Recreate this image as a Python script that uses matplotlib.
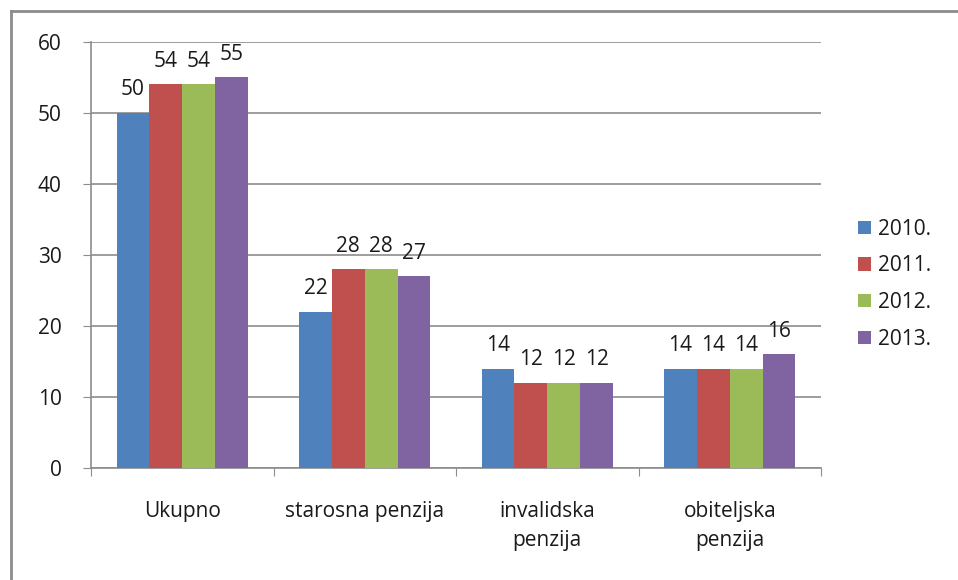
import numpy as np
import matplotlib.pyplot as plt
from matplotlib.lines import Line2D

categories = ["Ukupno", "starosna penzija", "invalidska\npenzija", "obiteljska\npenzija"]
years = ["2010.", "2011.", "2012.", "2013."]
v2010 = [50, 22, 14, 14]
v2011 = [54, 28, 12, 14]
v2012 = [54, 28, 12, 14]
v2013 = [55, 27, 12, 16]
colors = ["#4F81BD", "#C0504D", "#9BBB59", "#8064A2"]

plt.rcParams['font.family'] = ['Open Sans', 'DejaVu Sans']
fs = 15
txt = "#1a1a1a"

fig = plt.figure(figsize=(9.58, 5.8), dpi=100)
ax = fig.add_axes([0.095, 0.193, 0.762, 0.735])

x = np.arange(len(categories))
w = 0.18
series = [v2010, v2011, v2012, v2013]
for i, (vals, col, lab) in enumerate(zip(series, colors, years)):
    bars = ax.bar(x + (i - 1.5) * w, vals, w, color=col, label=lab, zorder=3)
    ax.bar_label(bars, padding=9, fontsize=fs, color=txt)

ax.set_ylim(0, 60)
ax.set_xlim(-0.5, 3.5)
ax.set_yticks(range(0, 61, 10))
ax.yaxis.grid(True, color="#8c8c8c", linewidth=1.2, zorder=0)
ax.set_axisbelow(True)
ax.set_xticks(np.arange(-0.5, 4, 1))
ax.set_xticklabels([])
ax.set_xticks(x, minor=True)
ax.set_xticklabels(categories, minor=True, fontsize=fs, color=txt, linespacing=1.5)
ax.tick_params(axis="x", which="minor", length=0, pad=24)
ax.tick_params(axis="x", which="major", length=6, color="#8c8c8c")
ax.tick_params(axis="y", length=6, color="#8c8c8c", labelsize=fs, labelcolor=txt, pad=15)
for s in ["top", "right"]:
    ax.spines[s].set_visible(False)
for s in ["left", "bottom"]:
    ax.spines[s].set_color("#8c8c8c")
    ax.spines[s].set_linewidth(1.2)

fig.legend(*ax.get_legend_handles_labels(), loc="center left",
           bbox_to_anchor=(858 / 958, 0.51), bbox_transform=fig.transFigure,
           frameon=False, fontsize=fs, handlelength=0.6, handleheight=0.6,
           labelspacing=0.75, handletextpad=0.35, borderaxespad=0, borderpad=0,
           labelcolor=txt)

# figure border (left and top)
fig.add_artist(Line2D([0.0115, 0.0115], [0.0, 0.981], color="#8c8c8c", linewidth=2))
fig.add_artist(Line2D([0.0115, 1.0], [0.981, 0.981], color="#8c8c8c", linewidth=2))

plt.savefig("out.png", dpi=100)
